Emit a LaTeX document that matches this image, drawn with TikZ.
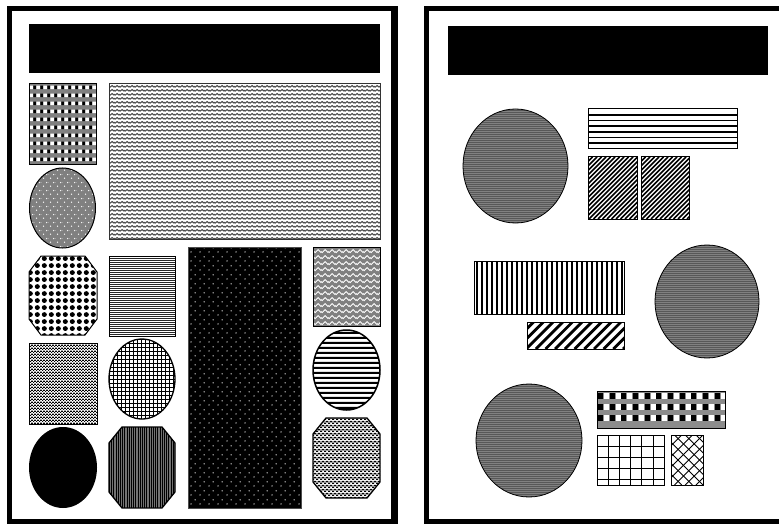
\documentclass[tikz,border=0pt]{standalone}
\usetikzlibrary{patterns.meta}

\tikzdeclarepattern{name=gingL, type=colored,
  bounding box={(0pt,0pt) and (6.7pt,8pt)}, tile size={(6.7pt,8pt)},
  code={\fill[black] (0.3pt,3.2pt) rectangle (3.2pt,7.2pt);
        \fill[white] (3.6pt,3.2pt) rectangle (6.4pt,7.2pt);}}
\tikzdeclarepattern{name=waveL, type=colored,
  bounding box={(0pt,0pt) and (5pt,4pt)}, tile size={(5pt,4pt)},
  code={\draw[black!70, line width=1.3pt] (-2.5pt,3pt) -- (0pt,1pt) -- (2.5pt,3pt) -- (5pt,1pt) -- (7.5pt,3pt);}}
\tikzdeclarepattern{name=dotgray, type=colored,
  bounding box={(0pt,0pt) and (7pt,8pt)}, tile size={(7pt,8pt)},
  code={\fill[white] (1.75pt,2pt) circle (0.8pt);
        \fill[white] (5.25pt,6pt) circle (0.8pt);}}
\tikzdeclarepattern{name=bigdots, type=colored,
  bounding box={(0pt,0pt) and (6.8pt,7.4pt)}, tile size={(6.8pt,7.4pt)},
  code={\fill[black] (3.4pt,3.7pt) circle (2.6pt);}}
\tikzdeclarepattern{name=hfine, type=colored,
  bounding box={(0pt,0pt) and (2pt,2.4pt)}, tile size={(2pt,2.4pt)},
  code={\fill[black!85] (-0.5pt,0pt) rectangle (2.5pt,1.2pt);}}
\tikzdeclarepattern{name=checkfine, type=colored,
  bounding box={(0pt,0pt) and (3pt,3pt)}, tile size={(3pt,3pt)},
  code={\fill[black] (0pt,0pt) rectangle (1.5pt,1.5pt);
        \fill[black] (1.5pt,1.5pt) rectangle (3pt,3pt);}}
\tikzdeclarepattern{name=gridL, type=colored,
  bounding box={(0pt,0pt) and (4.2pt,4.2pt)}, tile size={(4.2pt,4.2pt)},
  code={\fill[black] (-0.5pt,0pt) rectangle (4.7pt,0.9pt);
        \fill[black] (0pt,-0.5pt) rectangle (0.9pt,4.7pt);}}
\tikzdeclarepattern{name=whitedots, type=colored,
  bounding box={(0pt,0pt) and (9pt,9pt)}, tile size={(9pt,9pt)},
  code={\fill[white] (2.25pt,2.25pt) circle (0.75pt);
        \fill[white] (6.75pt,6.75pt) circle (0.75pt);}}
\tikzdeclarepattern{name=herring, type=colored,
  bounding box={(0pt,0pt) and (7pt,6pt)}, tile size={(7pt,6pt)},
  code={\draw[white, line width=1pt] (-3.5pt,5pt) -- (0pt,1.5pt) -- (3.5pt,5pt) -- (7pt,1.5pt) -- (10.5pt,5pt);}}
\tikzdeclarepattern{name=hthick, type=colored,
  bounding box={(0pt,0pt) and (2pt,5pt)}, tile size={(2pt,5pt)},
  code={\fill[black] (-0.5pt,0pt) rectangle (2.5pt,2.5pt);}}
\tikzdeclarepattern{name=weave, type=colored,
  bounding box={(0pt,0pt) and (4pt,4pt)}, tile size={(4pt,4pt)},
  code={\fill[black] (0pt,0pt) rectangle (2.6pt,1.8pt);
        \fill[black] (2pt,2pt) rectangle (4pt,3.8pt);
        \fill[black] (0pt,2pt) rectangle (0.6pt,3.8pt);}}
\tikzdeclarepattern{name=darkfine, type=colored,
  bounding box={(0pt,0pt) and (2.4pt,2.4pt)}, tile size={(2.4pt,2.4pt)},
  code={\fill[white] (0.5pt,0.5pt) rectangle (1.8pt,1.8pt);}}

\begin{document}
\begin{tikzpicture}[x=1pt,y=-1pt,
  outl/.style={draw=black,line width=1pt},
  frame/.style={draw=black,line width=5.5pt}]
\useasboundingbox (0,0) rectangle (779,524);
\clip (0,0) rectangle (779,524);
\fill[white] (0,0) rectangle (779,524);

% ---------- left page ----------
\draw[frame] (9.5,8.75) rectangle (393.5,521.75);
\fill[black] (391,6) rectangle (397.5,524);

\fill[black] (29,24) rectangle (380,73);

\fill[black!50] (29,84) rectangle (96,164);
\fill[pattern=gingL] (29,84) rectangle (96,164);
\draw[outl] (29,84) rectangle (96,164);

\fill[white] (109,84) rectangle (380,239);
\fill[pattern=waveL] (109,84) rectangle (380,239);
\draw[outl,draw=black!80] (109,84) rectangle (380,239);

\fill[black!50] (62.5,208) ellipse (33 and 40);
\fill[pattern=dotgray] (62.5,208) ellipse (33 and 40);
\draw[outl] (62.5,208) ellipse (33 and 40);

% row 3
\fill[white] (41,256) -- (85,256) -- (97,272) -- (97,319) -- (85,335) -- (41,335) -- (29,319) -- (29,272) -- cycle;
\fill[pattern=bigdots] (41,256) -- (85,256) -- (97,272) -- (97,319) -- (85,335) -- (41,335) -- (29,319) -- (29,272) -- cycle;
\draw[outl] (41,256) -- (85,256) -- (97,272) -- (97,319) -- (85,335) -- (41,335) -- (29,319) -- (29,272) -- cycle;

\fill[white] (109,256) rectangle (175,336);
\fill[pattern=hfine] (109,256) rectangle (175,336);
\draw[outl] (109,256) rectangle (175,336);

\fill[black] (188,247) rectangle (301,508);
\fill[pattern=whitedots] (188,247) rectangle (301,508);
\draw[outl,draw=black!70] (188,247) rectangle (301,508);

\fill[black!50] (313,247) rectangle (380,326);
\fill[pattern=herring] (313,247) rectangle (380,326);
\draw[outl] (313,247) rectangle (380,326);

% row 4
\fill[white] (29,343) rectangle (97,424);
\fill[pattern=checkfine] (29,343) rectangle (97,424);
\draw[outl] (29,343) rectangle (97,424);

\fill[white] (142,379) ellipse (33 and 40);
\fill[pattern=gridL] (142,379) ellipse (33 and 40);
\draw[outl,line width=1.3pt] (142,379) ellipse (33 and 40);

\fill[white] (346.5,370) ellipse (33.5 and 40);
\fill[pattern=hthick] (346.5,370) ellipse (33.5 and 40);
\draw[outl,line width=1.5pt] (346.5,370) ellipse (33.5 and 40);

% row 5
\fill[black] (63,467.5) ellipse (34 and 40.5);

\begin{scope}
  \clip (122,427) -- (162,427) -- (175,443) -- (175,492) -- (162,508) -- (122,508) -- (109,492) -- (109,443) -- cycle;
  \fill[black!55] (109,427) rectangle (175,508);
  \foreach \i in {0,...,30}
    \draw[line width=1.1pt] ({109.5+\i*2.2},427) -- ({109.5+\i*2.2},508);
\end{scope}
\draw[outl,line width=1.3pt] (122,427) -- (162,427) -- (175,443) -- (175,492) -- (162,508) -- (122,508) -- (109,492) -- (109,443) -- cycle;

\fill[white] (326,418) -- (367,418) -- (380,434) -- (380,482) -- (367,498) -- (326,498) -- (313,482) -- (313,434) -- cycle;
\fill[pattern=weave] (326,418) -- (367,418) -- (380,434) -- (380,482) -- (367,498) -- (326,498) -- (313,482) -- (313,434) -- cycle;
\draw[outl,line width=1.3pt] (326,418) -- (367,418) -- (380,434) -- (380,482) -- (367,498) -- (326,498) -- (313,482) -- (313,434) -- cycle;

% ---------- right page ----------
\draw[frame] (426.5,8.75) rectangle (800,521.75);

\fill[black] (448,26) rectangle (768,75);

% circles
\foreach \cx/\cy/\rx/\ry in {515.5/166/52.5/57, 707/301.5/52/56.5, 529/440.5/53/56.5} {
  \fill[black!85] (\cx,\cy) ellipse [x radius=\rx, y radius=\ry];
  \fill[pattern=darkfine] (\cx,\cy) ellipse [x radius=\rx, y radius=\ry];
  \draw[outl,line width=0.8pt] (\cx,\cy) ellipse [x radius=\rx, y radius=\ry];
}

% horizontal stripes rect
\foreach \k in {1,...,6}
  \draw[line width=1.8pt] (588,{109+\k*5.714}) -- (737,{109+\k*5.714});
\draw[outl] (588,109) rectangle (737,149);

% diagonal squares
\begin{scope}
  \clip (588,157) rectangle (637,219);
  \foreach \i in {0,...,26}
    \draw[line width=1.6pt] ({526+\i*4.5},219) -- ++(62,-62);
\end{scope}
\draw[outl] (588,157) rectangle (637,219);
\begin{scope}
  \clip (641,157) rectangle (689,219);
  \foreach \i in {0,...,26}
    \draw[line width=1.6pt] ({579+\i*4.5},219) -- ++(62,-62);
\end{scope}
\draw[outl] (641,157) rectangle (689,219);

% vertical stripes rect
\foreach \i in {0,...,29}
  \draw[line width=2pt] ({477+\i*5},261) -- ({477+\i*5},314);
\draw[outl] (474,261) rectangle (624,314);

% lower diagonal rect
\begin{scope}
  \clip (527,322) rectangle (624,349);
  \foreach \i in {0,...,13}
    \draw[line width=2.8pt] ({497+\i*9.7},349) -- ++(27,-27);
\end{scope}
\draw[outl] (527,322) rectangle (624,349);

% gingham rect
\begin{scope}
  \clip (597,391) rectangle (725,428);
  \fill[black!45] (597,391) rectangle (725,428);
  \foreach \r in {0,1,2}
    \foreach \c in {0,...,10} {
      \fill[black] ({598+\c*11.65},{393+\r*11}) rectangle ++(5,6);
      \fill[white] ({604+\c*11.65},{393+\r*11}) rectangle ++(5,6);
    }
\end{scope}
\draw[outl] (597,391) rectangle (725,428);

% grid rect
\foreach \k in {1,...,5}
  \draw[line width=1pt] ({597+\k*11.2},435) -- ({597+\k*11.2},485);
\foreach \k in {1,...,4}
  \draw[line width=1pt] (597,{435+\k*11.2}) -- (664,{435+\k*11.2});
\draw[outl] (597,435) rectangle (664,485);

% crosshatch rect
\begin{scope}
  \clip (671,435) rectangle (703,485);
  \foreach \i in {0,...,8} {
    \draw[line width=0.9pt] ({621+\i*10.7},485) -- ++(50,-50);
    \draw[line width=0.9pt] ({621+\i*10.7},435) -- ++(50,50);
  }
\end{scope}
\draw[outl] (671,435) rectangle (703,485);
\end{tikzpicture}
\end{document}
